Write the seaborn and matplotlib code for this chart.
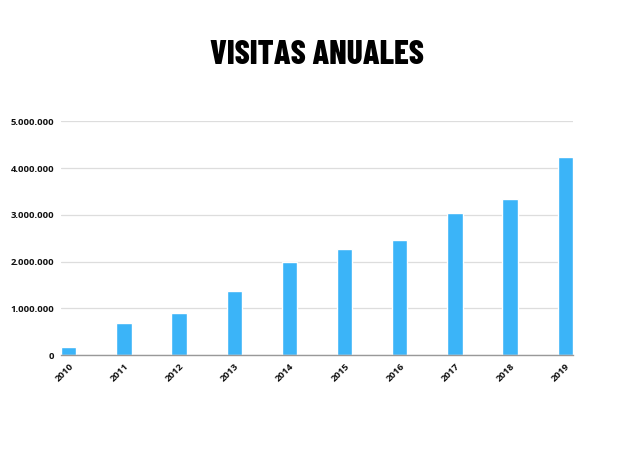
import matplotlib
matplotlib.use("Agg")
import matplotlib.pyplot as plt
import seaborn as sns
import pandas as pd
from matplotlib.ticker import FuncFormatter

years = ["2010", "2011", "2012", "2013", "2014", "2015", "2016", "2017", "2018", "2019"]
visits = [180000, 690000, 890000, 1360000, 1980000, 2260000, 2460000, 3030000, 3330000, 4230000]
y_ticks = [0, 1000000, 2000000, 3000000, 4000000, 5000000]
title = "VISITAS ANUALES"

df = pd.DataFrame({"year": years, "visits": visits})

sns.set_theme(style="white")
plt.rcParams['font.family'] = ['Open Sans', 'DejaVu Sans']

fig = plt.figure(figsize=(6.34, 4.76), dpi=100)
ax = fig.add_axes([0.0962, 0.2542, 0.8076, 0.491])

sns.barplot(data=df, x="year", y="visits", color="#3BB4F8", saturation=1,
            width=0.28, ax=ax, zorder=3)

ax.set_xlim(-0.14, 9.14)
ax.set_ylim(0, 5000000)
ax.set_yticks(y_ticks)
ax.yaxis.set_major_formatter(FuncFormatter(lambda v, p: f"{int(v):,}".replace(",", ".")))
ax.grid(axis="y", color="#dddddd", linewidth=0.9, zorder=0)
ax.set_axisbelow(True)
for s in ["top", "right", "left"]:
    ax.spines[s].set_visible(False)
ax.spines["bottom"].set_color("#999999")
ax.spines["bottom"].set_linewidth(1.0)
ax.spines["bottom"].set_zorder(4)
ax.set_xlabel("")
ax.set_ylabel("")
ax.tick_params(axis="y", length=0, pad=5)
ax.tick_params(axis="x", length=0, pad=5)
for lbl in ax.get_yticklabels():
    lbl.set_fontsize(6.8)
    lbl.set_fontweight("bold")
    lbl.set_color("#111111")
for lbl in ax.get_xticklabels():
    lbl.set_fontsize(6.8)
    lbl.set_fontweight("bold")
    lbl.set_color("#111111")
    lbl.set_rotation(45)
    lbl.set_ha("right")
    lbl.set_rotation_mode("anchor")

fig.text(0.5, 1 - 55 / 476, title, ha="center", va="center", fontsize=24,
         fontweight=800, family=["Barlow Condensed", "DejaVu Sans"], color="#000000")

fig.savefig("out.png", dpi=100, facecolor="white")
